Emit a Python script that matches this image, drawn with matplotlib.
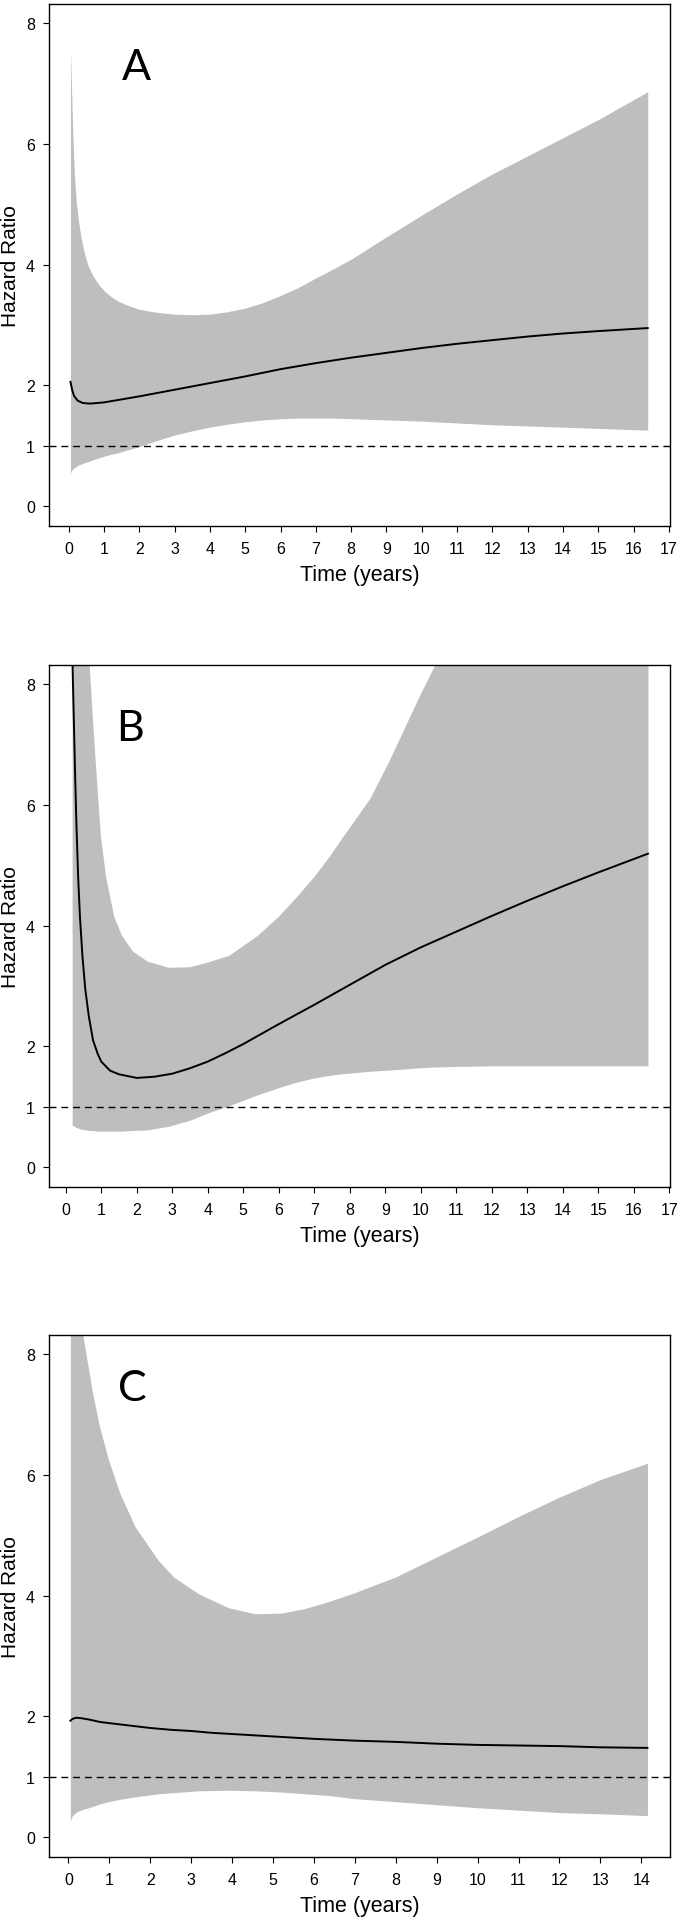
import numpy as np
import matplotlib
matplotlib.use('Agg')
import matplotlib.pyplot as plt

plt.rcParams['font.family'] = ['Liberation Sans', 'DejaVu Sans']

# ---- panel A ----
t_a = [0.05, 0.1, 0.15, 0.25, 0.4, 0.6, 1.0, 1.5, 2, 3, 4, 5, 6, 7, 8,
       9, 10, 11, 12, 13, 14, 15, 16.4]
hr_a = [2.06, 1.92, 1.83, 1.75, 1.71, 1.70, 1.72, 1.77, 1.82, 1.93, 2.04,
        2.15, 2.27, 2.37, 2.46, 2.54, 2.62, 2.69, 2.75, 2.81, 2.86, 2.90, 2.95]
band_t_a = [0.05, 0.08, 0.12, 0.16, 0.21, 0.27, 0.35, 0.43, 0.55, 0.68, 0.85, 1.0, 1.2,
            1.42, 1.7, 2.0, 2.5, 3.0, 3.5, 4, 4.5, 5, 5.5, 6, 6.5, 7, 7.5, 8, 9, 10,
            11, 12, 13, 14, 15, 16.4]
up_a = [7.55, 6.9, 6.1, 5.5, 5.07, 4.75, 4.45, 4.22, 3.98, 3.82, 3.67, 3.57, 3.47,
        3.39, 3.32, 3.26, 3.21, 3.18, 3.17, 3.18, 3.22, 3.28, 3.37, 3.49, 3.62, 3.78,
        3.93, 4.09, 4.46, 4.82, 5.17, 5.50, 5.80, 6.10, 6.40, 6.86]
lo_a = [0.55, 0.59, 0.62, 0.64, 0.66, 0.68, 0.70, 0.72, 0.74, 0.77, 0.80, 0.83, 0.86,
        0.89, 0.94, 0.99, 1.09, 1.18, 1.25, 1.31, 1.36, 1.40, 1.43, 1.45, 1.46, 1.46,
        1.46, 1.45, 1.43, 1.41, 1.38, 1.35, 1.33, 1.31, 1.29, 1.26]

# ---- panel B ----
t_b = [0.18, 0.22, 0.26, 0.3, 0.35, 0.4, 0.47, 0.55, 0.65, 0.77, 0.9, 1.0, 1.25, 1.5, 2,
       2.5, 3, 3.5, 4, 4.5, 5, 6, 7, 8, 9, 10, 11, 12, 13, 14, 15, 16.4]
hr_b = [8.6, 7.6, 6.6, 5.7, 4.8, 4.15, 3.5, 2.95, 2.5, 2.1, 1.88, 1.75, 1.6, 1.54, 1.48,
        1.50, 1.55, 1.64, 1.75, 1.89, 2.04, 2.37, 2.69, 3.02, 3.35, 3.64, 3.90, 4.16, 4.41,
        4.65, 4.88, 5.19]
band_t_b = [0.18, 0.3, 0.45, 0.55, 0.66, 0.75, 0.9, 0.98, 1.12, 1.35, 1.57, 1.88, 2.3,
            2.9, 3.5, 4.0, 4.6, 5.4, 6.0, 6.5, 7.0, 7.4, 7.8, 8.2, 8.56, 9.1, 9.6, 10.0,
            10.4, 11, 12, 13, 14, 15, 16.4]
up_b = [13.0, 11.7, 10.2, 9.2, 8.32, 7.44, 6.12, 5.47, 4.82, 4.16, 3.84, 3.58, 3.41,
        3.31, 3.32, 3.40, 3.51, 3.84, 4.16, 4.48, 4.82, 5.13, 5.47, 5.80, 6.10, 6.72,
        7.35, 7.85, 8.32, 9.0, 10.1, 11.2, 12.3, 13.4, 15.0]
lo_b = [0.70, 0.66, 0.63, 0.62, 0.61, 0.61, 0.60, 0.60, 0.60, 0.60, 0.60, 0.61, 0.62,
        0.68, 0.78, 0.90, 1.02, 1.20, 1.32, 1.41, 1.48, 1.52, 1.55, 1.57, 1.59, 1.61,
        1.63, 1.65, 1.66, 1.67, 1.68, 1.68, 1.68, 1.68, 1.68]

# ---- panel C ----
t_c = [0.05, 0.1, 0.2, 0.33, 0.5, 0.77, 1.0, 1.5, 2, 2.5, 3, 3.5, 4, 4.5, 5, 5.5,
       6, 7, 8, 9, 10, 11, 12, 13, 14.15]
hr_c = [1.93, 1.96, 1.98, 1.97, 1.95, 1.91, 1.89, 1.85, 1.81, 1.78, 1.76, 1.73, 1.71,
        1.69, 1.67, 1.65, 1.63, 1.60, 1.58, 1.55, 1.53, 1.52, 1.51, 1.49, 1.48]
band_t_c = [0.05, 0.1, 0.2, 0.34, 0.45, 0.59, 0.76, 0.98, 1.26, 1.63, 2.2, 2.57, 3.18,
            3.91, 4.56, 5.2, 5.8, 6.4, 7, 8, 9, 10, 11, 12, 13, 14.15]
up_c = [10.5, 10.0, 9.2, 8.37, 7.92, 7.36, 6.80, 6.25, 5.69, 5.14, 4.58, 4.31, 4.03,
        3.80, 3.70, 3.71, 3.79, 3.91, 4.05, 4.31, 4.64, 4.97, 5.31, 5.63, 5.92, 6.19]
lo_c = [0.27, 0.36, 0.42, 0.46, 0.48, 0.51, 0.55, 0.59, 0.63, 0.67, 0.72, 0.74, 0.77,
        0.78, 0.77, 0.75, 0.72, 0.69, 0.64, 0.59, 0.54, 0.49, 0.45, 0.41, 0.39, 0.36]

panels = [
    ('A', t_a, hr_a, band_t_a, up_a, lo_a, (-0.567, 17.03), np.arange(0, 18), (1.93, 7.27), 0.72625),
    ('B', t_b, hr_b, band_t_b, up_b, lo_b, (-0.48, 17.02), np.arange(0, 18), (1.81, 7.27), 0.38269),
    ('C', t_c, hr_c, band_t_c, up_c, lo_c, (-0.48, 14.7), np.arange(0, 15), (1.56, 7.44), 0.03446),
]

fig = plt.figure(figsize=(6.81, 19.24), dpi=100)

for letter, t, hr, bt, up, lo, xlim, xticks, lpos, bottom in panels:
    ax = fig.add_axes([0.0715, bottom, 0.9123, 0.2714])
    ax.fill_between(bt, lo, up, color='#bebebe', lw=0)
    ax.plot(t, hr, color='black', lw=1.4)
    ax.axhline(1, color='black', lw=1.0, dashes=(5, 3.5))
    ax.set_xlim(*xlim)
    ax.set_ylim(-0.32, 8.32)
    ax.set_xticks(xticks)
    ax.set_yticks([0, 1, 2, 4, 6, 8])
    ax.tick_params(length=4.3, width=0.8, labelsize=11.5, direction='out')
    ax.tick_params(axis='x', pad=6.5)
    ax.tick_params(axis='y', pad=5.5)
    for s in ax.spines.values():
        s.set_linewidth(1.0)
    ax.set_xlabel('Time (years)', fontsize=15.5, va='center')
    ax.xaxis.set_label_coords(0.5, -0.0944)
    ax.set_ylabel('Hazard Ratio', fontsize=15, va='center')
    ax.yaxis.set_label_coords(-0.061, 0.5)
    ax.text(lpos[0], lpos[1], letter, fontsize=31, family=['Lato', 'DejaVu Sans'],
            ha='center', va='center')

fig.savefig('out.png', dpi=100)
